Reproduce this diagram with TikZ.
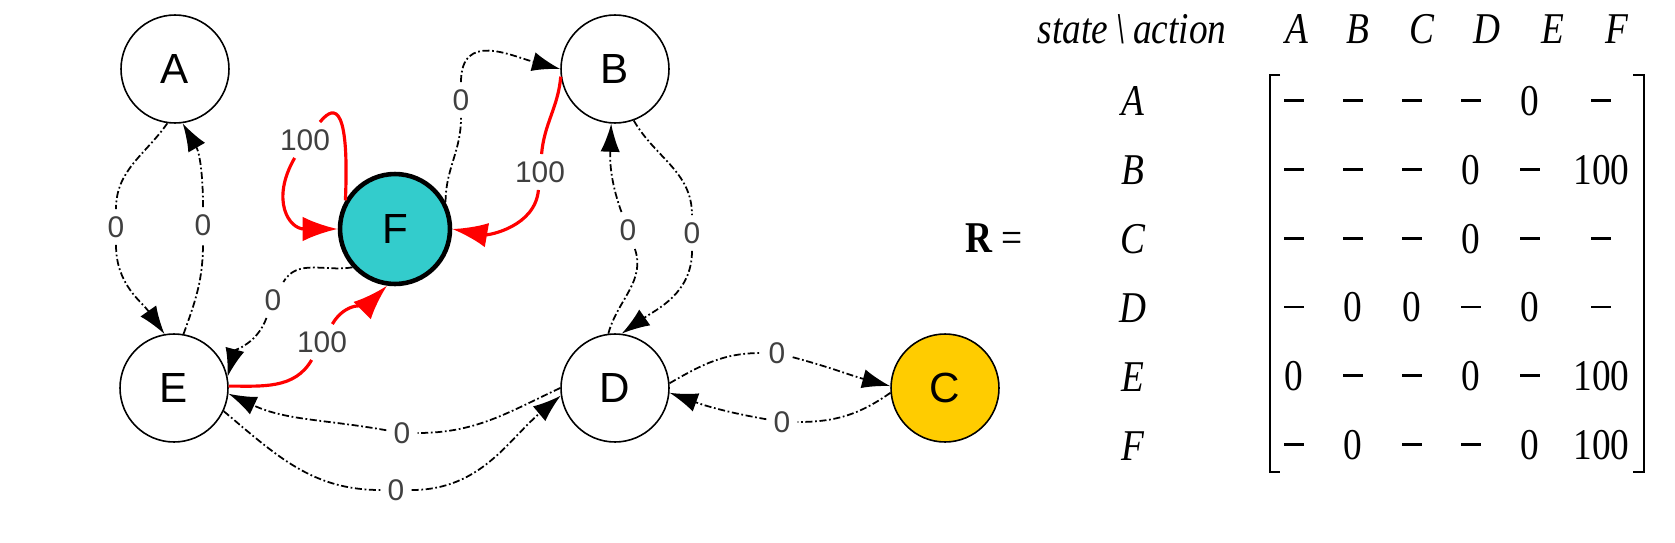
\documentclass[tikz,border=0pt]{standalone}
\usepackage{fontspec}
\setmainfont{Liberation Serif}
\newfontfamily\grafont{Liberation Sans}
\newfontfamily\matfont[FakeStretch=0.85]{Liberation Serif}
\usetikzlibrary{arrows.meta,matrix}
\definecolor{goalteal}{HTML}{33CCCC}
\definecolor{startgold}{HTML}{FFCC00}
\newcommand{\nil}{\rule[0.27cm]{0.4cm}{0.06cm}}

\begin{document}
\begin{tikzpicture}[x=0.02cm, y=0.02cm, >={Latex[length=16pt,width=11pt]},
  statenode/.style={circle, draw, line width=0.9pt, minimum size=2.16cm, inner sep=0pt, font=\grafont\fontsize{24}{24}\selectfont},
  wt/.style={font=\grafont\fontsize{17}{17}\selectfont, text=black!75, inner sep=4pt},
  link/.style={->, line width=1pt, dash pattern=on 4pt off 1.5pt on 1pt off 1.5pt},
  prize/.style={->, red, line width=1.8pt, >={Latex[length=20pt,width=14pt]}},
  lab/.style={font=\matfont\fontsize{25}{25}\selectfont, anchor=base, inner sep=0pt}]
\useasboundingbox (0,0) rectangle (1675,542);
% states
\node[statenode] (A) at (175,473) {A};
\node[statenode] (B) at (615,473) {B};
\node[statenode, fill=startgold] (C) at (945,154) {C};
\node[statenode] (D) at (615,154) {D};
\node[statenode] (E) at (174,154) {E};
\node[statenode, fill=goalteal, line width=2.6pt, minimum size=2.2cm] (F) at (395,313) {F};
% rewards
\node[wt] (wAE) at (116,315) {0};
\node[wt] (wEA) at (203,317) {0};
\node[wt] (wFF) at (305,402) {100};
\node[wt] (wFB) at (461,442) {0};
\node[wt] (wBF) at (540,370) {100};
\node[wt] (wFE) at (273,242) {0};
\node[wt] (wEF) at (322,200) {100};
\node[wt] (wDE) at (402,109) {0};
\node[wt] (wED) at (396,52) {0};
\node[wt] (wDB) at (628,312) {0};
\node[wt] (wBD) at (692,309) {0};
\node[wt] (wDC) at (777,189) {0};
\node[wt] (wCD) at (782,120) {0};
% actions
\draw[link] (A.262) to[out=235,in=90] (wAE) to[out=270,in=125] (E.100);
\draw[link] (E.80) to[out=70,in=270] (wEA) to[out=90,in=300] (A.278);
\draw[prize] (F.150) .. controls (350,450) and (330,432) .. (wFF) to[out=240,in=180,looseness=1.5] (F.180);
\draw[link] (F.28) to[out=90,in=270] (wFB) to[out=90,in=165,looseness=1.3] (B.180);
\draw[prize] (B.188) to[out=265,in=85] (wBF) to[out=265,in=350] (F.0);
\draw[link] (F.222) to[out=190,in=60] (wFE) to[out=250,in=75] (E.12);
\draw[prize] (E.2) to[out=0,in=240] (wEF) to[out=60,in=225] (F.262);
\draw[link] (D.180) to[out=205,in=0] (wDE) to[out=170,in=335] (E.354);
\draw[link] (E.335) to[out=320,in=180] (wED) to[out=0,in=220] (D.188);
\draw[link] (D.97) to[out=75,in=290] (wDB) to[out=110,in=268] (B.266);
\draw[link] (B.290) to[out=300,in=90] (wBD) to[out=270,in=35] (D.83);
\draw[link] (D.5) to[out=30,in=180] (wDC) to[out=345,in=165] (C.178);
\draw[link] (C.185) to[out=215,in=0] (wCD) to[out=170,in=340] (D.355);
% reward matrix
\node[lab] (Req) at (994,290) {{\bfseries R} =};
\node[lab] (hd) at (1132,499) {\itshape state\,\textbackslash\,action};
\node[lab] (cA) at (1297,499) {\itshape A};
\node[lab] (cB) at (1358,499) {\itshape B};
\node[lab] (cC) at (1422,499) {\itshape C};
\node[lab] (cD) at (1487,499) {\itshape D};
\node[lab] (cE) at (1553,499) {\itshape E};
\node[lab] (cF) at (1617,499) {\itshape F};
\node[lab] (rA) at (1133,427) {\itshape A};
\node[lab] (rB) at (1133,358) {\itshape B};
\node[lab] (rC) at (1133,289) {\itshape C};
\node[lab] (rD) at (1133,220) {\itshape D};
\node[lab] (rE) at (1133,151) {\itshape E};
\node[lab] (rF) at (1133,82) {\itshape F};
\matrix (R) [matrix of nodes, inner sep=0pt, row sep=0.78cm, column sep=0.38cm,
  nodes={lab, text height=0.5cm, text depth=0.1cm, minimum width=0.8cm},
  column 6/.style={nodes={minimum width=1.3cm}}] at (1454,264.5) {
\nil & \nil & \nil & \nil & 0 & \nil \\
\nil & \nil & \nil & 0 & \nil & 100 \\
\nil & \nil & \nil & 0 & \nil & \nil \\
\nil & 0 & 0 & \nil & 0 & \nil \\
0 & \nil & \nil & 0 & \nil & 100 \\
\nil & 0 & \nil & \nil & 0 & 100 \\
};
\draw[line width=1.1pt] (1280,467) -| (1270,70) -- (1280,70);
\draw[line width=1.1pt] (1633,467) -| (1644,70) -- (1633,70);
\end{tikzpicture}
\end{document}
